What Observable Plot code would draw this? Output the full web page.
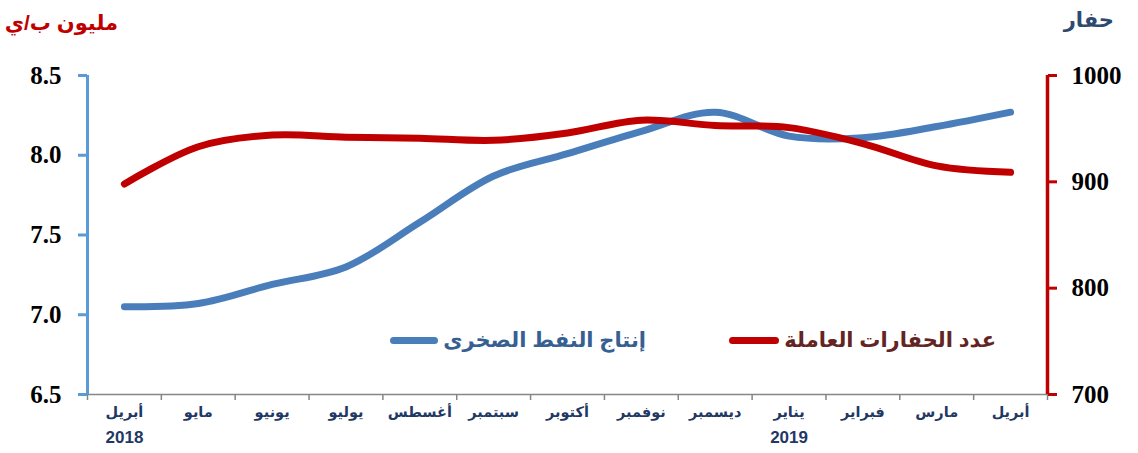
<!DOCTYPE html>
<html><head><meta charset="utf-8">
<script src="https://cdn.jsdelivr.net/npm/d3@7"></script>
<script src="https://cdn.jsdelivr.net/npm/@observablehq/plot@0.6"></script>
<style>
body{margin:0;background:#fff;}
#wrap{position:relative;width:1138px;height:453px;font-family:Arial,"Liberation Sans","DejaVu Sans",sans-serif;}
.t{position:absolute;font-weight:bold;white-space:nowrap;}
.leg{position:absolute;display:flex;align-items:center;direction:ltr;font-weight:bold;white-space:nowrap;font-size:21px;}
.sw{display:inline-block;height:7px;border-radius:4px;margin-right:5px;}
</style></head>
<body><div id="wrap"></div>
<script>
const months = ["أبريل","مايو","يونيو","يوليو","أغسطس","سبتمبر","أكتوبر","نوفمبر","ديسمبر","يناير","فبراير","مارس","أبريل"];
const years = [{i:0,label:"2018"},{i:9,label:"2019"}];
const shaleOil = [7.05,7.07,7.19,7.30,7.58,7.87,8.01,8.15,8.27,8.12,8.11,8.18,8.27];
const rigs = [898,933,944,942,941,939,946,958,953,951,936,915,909];
const leftTicks = [6.5,7.0,7.5,8.0,8.5];
const rightTicks = [700,800,900,1000];
const seriesNames = ["إنتاج النفط الصخرى","عدد الحفارات العاملة"];
const leftTitle = "مليون ب/ي";
const rightTitle = "حفار";

const yMin = 6.5, yMax = 8.5, rMin = 700, rMax = 1000;
const rigToY = r => yMin + (r - rMin) / (rMax - rMin) * (yMax - yMin);
const yToRig = v => rMin + (v - yMin) / (yMax - yMin) * (rMax - rMin);

const oilData = shaleOil.map((v,i)=>({i, v}));
const rigData = rigs.map((r,i)=>({i, v: rigToY(r)}));
const idx = months.map((m,i)=>i);
const bounds = d3.range(-0.5, months.length, 1);

const serif = "'Times New Roman','Liberation Serif',serif";
const sans = "Arial,'Liberation Sans','DejaVu Sans',sans-serif";
const chart = Plot.plot({
  width: 1138, height: 453,
  marginLeft: 87, marginRight: 91, marginTop: 75, marginBottom: 59,
  x: {type: "linear", domain: [-0.5, months.length - 0.5], axis: null, label: null},
  y: {type: "linear", domain: [yMin, yMax], axis: null, label: null},
  marks: [
    Plot.ruleY([yMin], {stroke: "#868686", strokeWidth: 1.5}),
    Plot.axisX({ticks: bounds, tickSize: 6, stroke: "#868686", strokeWidth: 1.5, tickFormat: () => "", label: null}),
    Plot.axisX({ticks: idx, tickSize: 0, tickPadding: 12, tickFormat: i => months[i], fontSize: 14.5, fontWeight: "bold", fill: "#1f3864", fontFamily: sans, label: null}),
    Plot.text(years, {x: "i", text: "label", frameAnchor: "bottom", dy: 48, fontSize: 17, fontWeight: "bold", fill: "#1f3864", fontFamily: sans}),
    Plot.axisY({anchor: "left", ticks: leftTicks, tickSize: 9, tickPadding: 17, stroke: "#5b9bd5", strokeWidth: 3, tickFormat: d3.format(".1f"), fontSize: 25, fontWeight: "bold", fill: "#000", fontFamily: serif, label: null}),
    Plot.axisY({anchor: "right", ticks: rightTicks.map(rigToY), tickSize: 9, tickPadding: 15, stroke: "#c00000", strokeWidth: 3, tickFormat: v => d3.format("d")(Math.round(yToRig(v))), fontSize: 25, fontWeight: "bold", fill: "#000", fontFamily: serif, label: null}),
    Plot.ruleX([-0.5], {stroke: "#5b9bd5", strokeWidth: 3}),
    Plot.ruleX([months.length - 0.5], {stroke: "#c00000", strokeWidth: 3.5}),
    Plot.line(oilData, {x: "i", y: "v", curve: "catmull-rom", stroke: "#4a7ebb", strokeWidth: 7, strokeLinecap: "round"}),
    Plot.line(rigData, {x: "i", y: "v", curve: "catmull-rom", stroke: "#c00000", strokeWidth: 7, strokeLinecap: "round"})
  ]
});
const wrap = document.getElementById("wrap");
wrap.appendChild(chart);
chart.style.position = "absolute"; chart.style.left = "0"; chart.style.top = "0";

function addText(txt, css){
  const d = document.createElement("div"); d.className = "t"; d.textContent = txt; d.dir = "rtl";
  Object.assign(d.style, css); wrap.appendChild(d); return d;
}
function addLegend(txt, swColor, txtColor, right, swWidth){
  const d = document.createElement("div"); d.className = "leg";
  d.style.right = right + "px"; d.style.top = "328px";
  const s = document.createElement("span"); s.className = "sw";
  s.style.width = swWidth + "px"; s.style.background = swColor;
  const t = document.createElement("span"); t.dir = "rtl"; t.textContent = txt; t.style.color = txtColor;
  d.appendChild(s); d.appendChild(t); wrap.appendChild(d);
}
addText(leftTitle, {right: (1138-118)+"px", top: "11px", fontSize: "21px", color: "#c00000"});
addText(rightTitle, {right: (1138-1114)+"px", top: "8px", fontSize: "21px", color: "#2e4a6e"});
addLegend(seriesNames[0], "#4a7ebb", "#376092", 1138-646, 48);
addLegend(seriesNames[1], "#c00000", "#632523", 1138-996, 50);
</script></body></html>
